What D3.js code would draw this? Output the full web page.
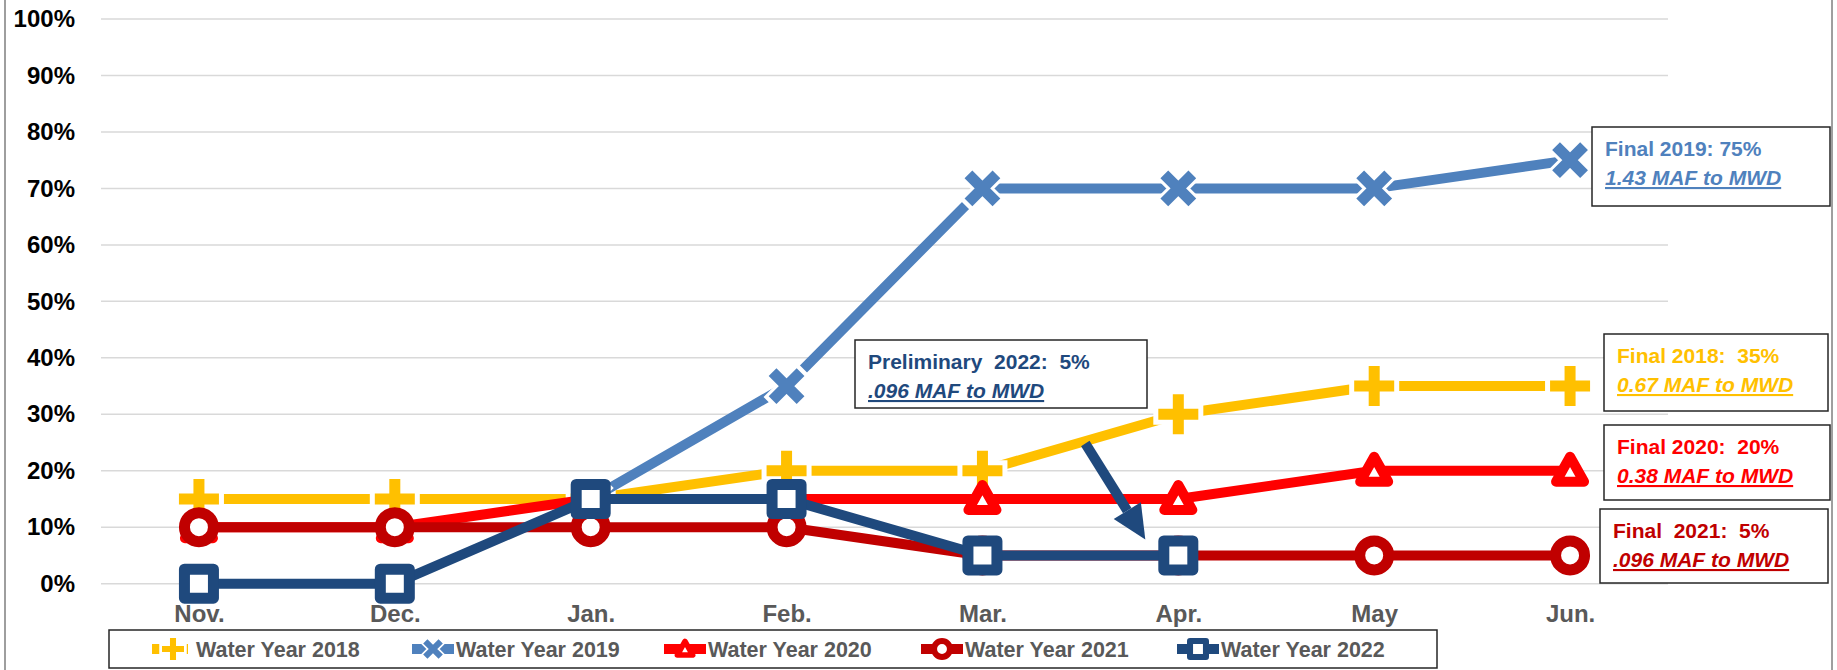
<!DOCTYPE html>
<html>
<head>
<meta charset="utf-8">
<script src="https://cdn.jsdelivr.net/npm/d3@7"></script>
<style>
  body { margin: 0; background: #fff; }
  svg text { font-family: "Liberation Sans", Arial, sans-serif; font-weight: bold; }
</style>
</head>
<body>
<div id="chart"></div>
<script>
// chart values
var months = ["Nov.", "Dec.", "Jan.", "Feb.", "Mar.", "Apr.", "May", "Jun."];
var wy2018 = [0.15, 0.15, 0.15, 0.20, 0.20, 0.30, 0.35, 0.35];
var wy2019 = [null, null, 0.15, 0.35, 0.70, 0.70, 0.70, 0.75];
var wy2020 = [0.10, 0.10, 0.15, 0.15, 0.15, 0.15, 0.20, 0.20];
var wy2021 = [0.10, 0.10, 0.10, 0.10, 0.05, 0.05, 0.05, 0.05];
var wy2022 = [0.00, 0.00, 0.15, 0.15, 0.05, 0.05, null, null];
var yTicks = [0, 0.1, 0.2, 0.3, 0.4, 0.5, 0.6, 0.7, 0.8, 0.9, 1.0];
var seriesNames = ["Water Year 2018", "Water Year 2019", "Water Year 2020", "Water Year 2021", "Water Year 2022"];
var calloutTitles = ["Final 2019: 75%", "Final 2018:  35%", "Final 2020:  20%", "Final  2021:  5%", "Preliminary  2022:  5%"];
var calloutSubs = ["1.43 MAF to MWD", "0.67 MAF to MWD", "0.38 MAF to MWD", ".096 MAF to MWD", ".096 MAF to MWD"];

var totalWidth = 1837, totalHeight = 670;
var colors = ["#FFC000", "#4F81BD", "#FF0000", "#C00000", "#1F497D"];
var shapes = ["plus", "cross", "triangle", "circle", "square"];
var allValues = [wy2018, wy2019, wy2020, wy2021, wy2022];

var svg = d3.select("#chart")
    .append("svg")
    .attr("width", totalWidth)
    .attr("height", totalHeight);

// outer chart frame (only the sides show)
svg.append("rect")
    .attr("x", 5).attr("y", -10)
    .attr("width", 1827).attr("height", totalHeight + 20)
    .style("fill", "none").style("stroke", "#7F7F7F").style("stroke-width", 1.5);

var x = d3.scalePoint()
    .domain(months)
    .range([101, 1668])
    .padding(0.5);

var y = d3.scaleLinear()
    .domain([0, 1])
    .range([583.7, 19]);

// gridlines + y labels
var yAxis = svg.append("g")
    .call(d3.axisLeft(y).tickValues(yTicks).tickFormat(d3.format(".0%")).tickSize(0).tickPadding(26))
    .attr("transform", "translate(101,0)");
yAxis.select(".domain").remove();
yAxis.selectAll("text")
    .style("font-size", "24px")
    .style("fill", "#000")
    .style("font-family", "'Liberation Sans', Arial, sans-serif")
    .style("font-weight", "bold");

svg.append("g")
    .selectAll("line")
    .data(yTicks)
    .enter()
    .append("line")
    .attr("x1", 101).attr("x2", 1668)
    .attr("y1", d => y(d)).attr("y2", d => y(d))
    .style("stroke", "#D9D9D9")
    .style("stroke-width", 1.5);

// x labels
var xAxis = svg.append("g")
    .attr("transform", "translate(0,600)")
    .call(d3.axisBottom(x).tickSize(0).tickPadding(0));
xAxis.select(".domain").remove();
xAxis.selectAll("text")
    .attr("dy", "0.9em")
    .style("font-size", "24px")
    .style("fill", "#595959")
    .style("font-family", "'Liberation Sans', Arial, sans-serif")
    .style("font-weight", "bold");

function drawMarker(g, shape, color, s) {
    s = s || 1;
    if (shape === "plus") {
        g.append("path").attr("d", "M" + (-25 * s) + ",0H" + (25 * s) + "M0," + (-25 * s) + "V" + (25 * s))
            .style("stroke", "#fff").style("stroke-width", 21 * s).style("fill", "none");
        g.append("path").attr("d", "M" + (-20 * s) + ",0H" + (20 * s) + "M0," + (-20 * s) + "V" + (20 * s))
            .style("stroke", color).style("stroke-width", 11 * s).style("fill", "none");
    } else if (shape === "cross") {
        var a = 14 * s, b = 17 * s;
        g.append("path").attr("d", "M" + (-b) + "," + (-b) + "L" + b + "," + b + "M" + (-b) + "," + b + "L" + b + "," + (-b))
            .style("stroke", "#fff").style("stroke-width", 17 * s).style("fill", "none");
        g.append("path").attr("d", "M" + (-a) + "," + (-a) + "L" + a + "," + a + "M" + (-a) + "," + a + "L" + a + "," + (-a))
            .style("stroke", color).style("stroke-width", 11 * s).style("fill", "none");
    } else if (shape === "triangle") {
        g.append("path").attr("d", "M0," + (-14 * s) + "L" + (14 * s) + "," + (11 * s) + "L" + (-14 * s) + "," + (11 * s) + "Z")
            .style("stroke", color).style("stroke-width", 10 * s).style("stroke-linejoin", "round").style("fill", "#fff");
    } else if (shape === "circle") {
        g.append("circle").attr("r", 14.5 * s)
            .style("stroke", color).style("stroke-width", 11 * s).style("fill", "#fff");
    } else if (shape === "square") {
        g.append("rect").attr("x", -14.5 * s).attr("y", -14.5 * s)
            .attr("width", 29 * s).attr("height", 29 * s)
            .style("stroke", color).style("stroke-width", 11 * s).style("stroke-linejoin", "round").style("fill", "#fff");
    }
}

var line = d3.line()
    .defined(d => d.v !== null)
    .x(d => x(d.m))
    .y(d => y(d.v));

allValues.forEach((vals, i) => {
    var pts = months.map((m, j) => ({m: m, v: vals[j]}));
    var sg = svg.append("g");
    sg.append("path")
        .datum(pts)
        .attr("d", line)
        .style("fill", "none")
        .style("stroke", colors[i])
        .style("stroke-width", 10)
        .style("stroke-linejoin", "round");
    pts.filter(d => d.v !== null).forEach(d => {
        var mg = sg.append("g").attr("transform", "translate(" + x(d.m) + "," + y(d.v) + ")");
        drawMarker(mg, shapes[i], colors[i]);
    });
});

// callout boxes
var boxes = [
    {x: 1592, y: 127, w: 238, h: 79, ci: 1},
    {x: 1604, y: 334, w: 224, h: 77, ci: 0},
    {x: 1604, y: 425, w: 226, h: 75, ci: 2},
    {x: 1600, y: 509, w: 228, h: 74, ci: 3},
    {x: 855, y: 340, w: 292, h: 68, ci: 4}
];
boxes.forEach((b, i) => {
    var g = svg.append("g");
    g.append("rect")
        .attr("x", b.x).attr("y", b.y).attr("width", b.w).attr("height", b.h)
        .style("fill", "#fff").style("stroke", "#262626").style("stroke-width", 1.5);
    g.append("text")
        .attr("x", b.x + 13).attr("y", b.y + 29)
        .attr("xml:space", "preserve")
        .style("white-space", "pre")
        .style("font-size", "21px")
        .style("fill", colors[b.ci])
        .text(calloutTitles[i]);
    g.append("text")
        .attr("x", b.x + 13).attr("y", b.y + 58)
        .style("font-size", "21px")
        .style("font-style", "italic")
        .style("text-decoration", "underline")
        .style("fill", colors[b.ci])
        .text(calloutSubs[i]);
});

// arrow from the preliminary box to the Apr. point
var ax1 = x("Apr.") - 93, ay1 = y(0.25) + 1,
    ax2 = x("Apr.") - 33, ay2 = y(0.05) - 16;
var ang = Math.atan2(ay2 - ay1, ax2 - ax1);
var headLen = 34, headW = 16;
var bx = ax2 - headLen * Math.cos(ang), by = ay2 - headLen * Math.sin(ang);
svg.append("line")
    .attr("x1", ax1).attr("y1", ay1).attr("x2", bx).attr("y2", by)
    .style("stroke", colors[4]).style("stroke-width", 10);
svg.append("path")
    .attr("d", "M" + ax2 + "," + ay2 +
        "L" + (bx + headW * Math.sin(ang)) + "," + (by - headW * Math.cos(ang)) +
        "L" + (bx - headW * Math.sin(ang)) + "," + (by + headW * Math.cos(ang)) + "Z")
    .style("fill", colors[4]);

// legend
var legend = svg.append("g");
legend.append("rect")
    .attr("x", 109).attr("y", 630).attr("width", 1328).attr("height", 38)
    .style("fill", "#fff").style("stroke", "#262626").style("stroke-width", 1.5);
var legendX = [152, 412, 664, 921, 1177];
seriesNames.forEach((name, i) => {
    var lg = legend.append("g").attr("transform", "translate(" + legendX[i] + ",649)");
    lg.append("line")
        .attr("x1", 0).attr("x2", 42)
        .style("stroke", colors[i]).style("stroke-width", 10)
        .style("stroke-dasharray", i === 0 ? "8,6" : null);
    var mg = lg.append("g").attr("transform", "translate(21,0)");
    drawMarker(mg, shapes[i], colors[i], 0.55);
    lg.append("text")
        .attr("x", 44).attr("y", 8)
        .style("font-size", "21.5px")
        .style("fill", "#595959")
        .text(name);
});
</script>
</body>
</html>
